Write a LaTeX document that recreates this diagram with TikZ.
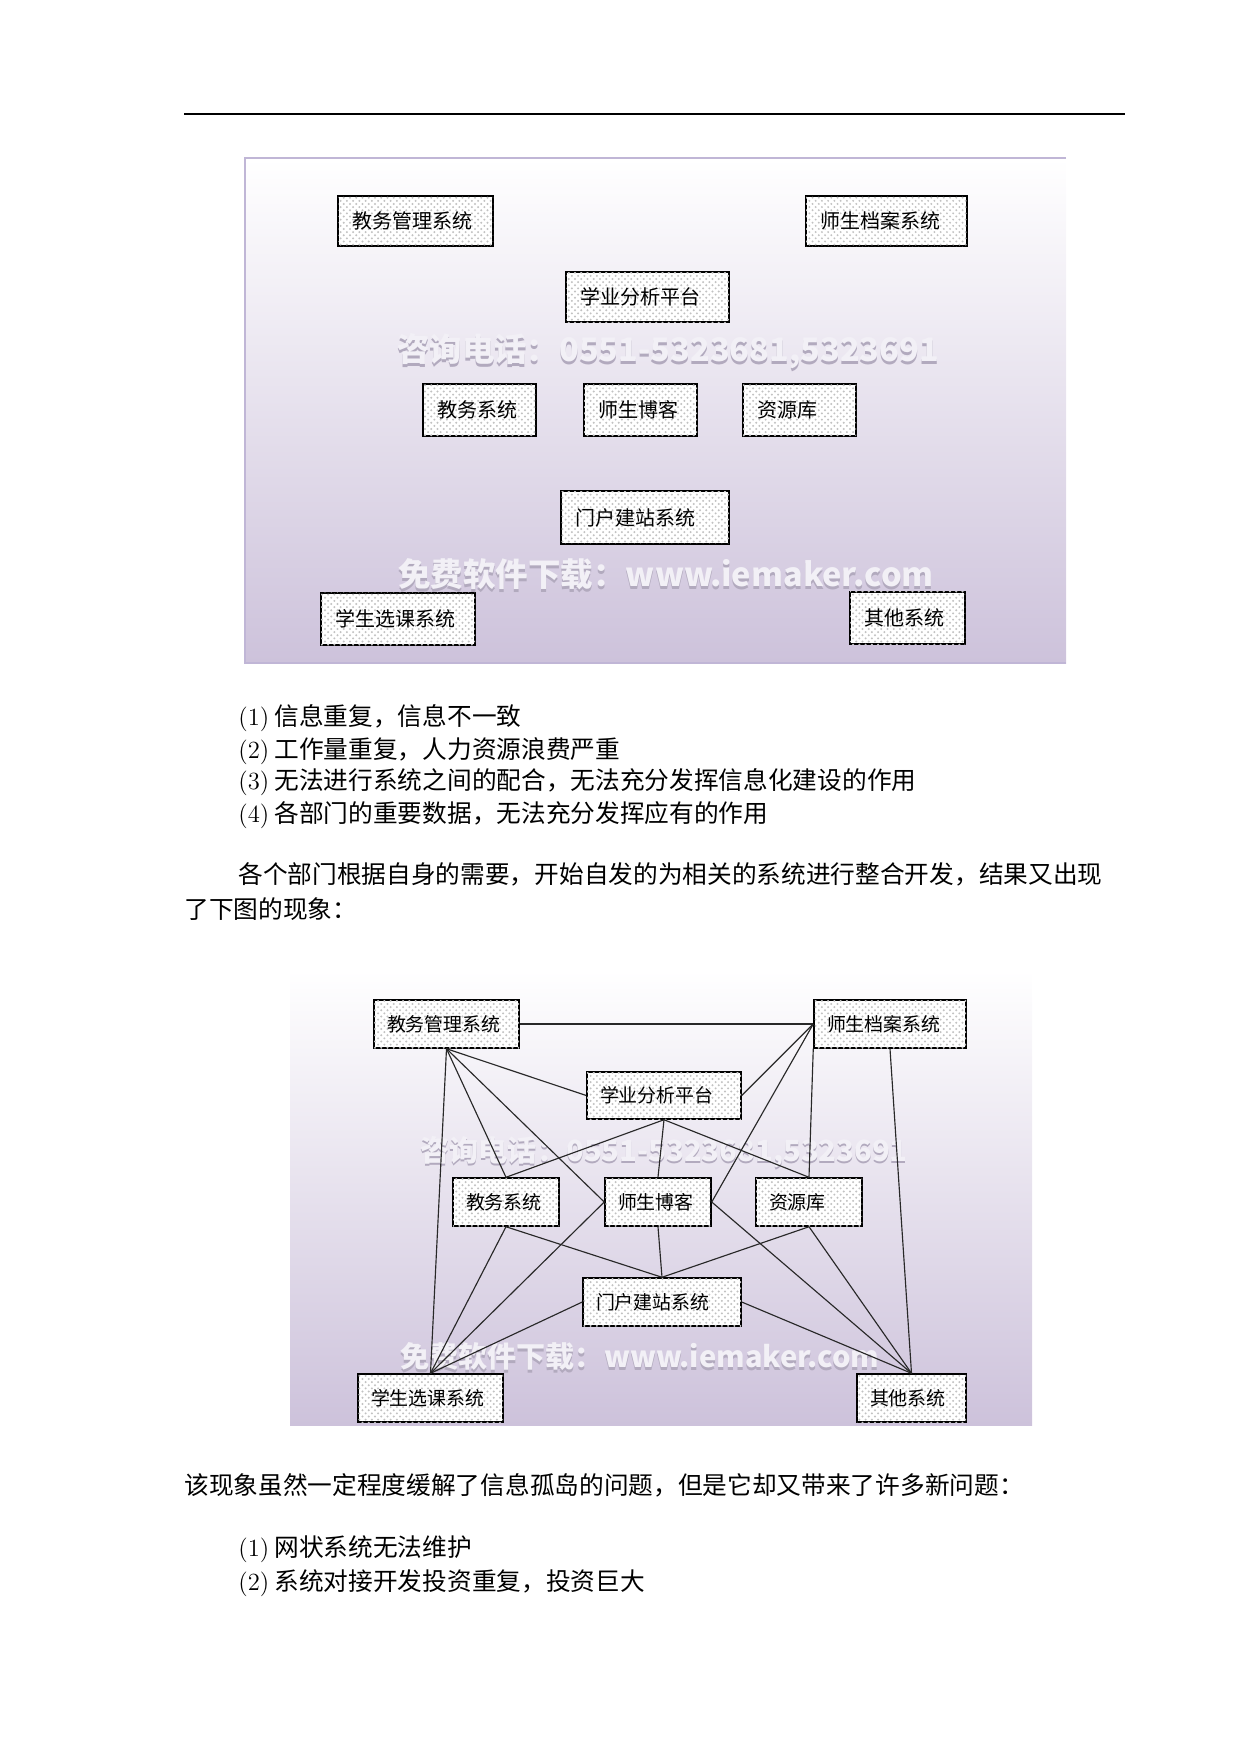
\documentclass[tikz,border=0pt]{standalone}
\usepackage{graphicx}
\usepackage{fontspec}
\newfontfamily\cjk{Noto Sans CJK SC}
\usetikzlibrary{patterns}

\definecolor{panelbot}{RGB}{205,194,219}
\definecolor{panelmid}{RGB}{237,233,242}
\definecolor{panelrule}{RGB}{192,182,214}
\definecolor{markfg}{RGB}{242,240,246}
\definecolor{markbg}{RGB}{178,170,190}
\definecolor{linkgray}{RGB}{40,40,40}

\newcommand{\marktext}[2]{\resizebox{#1}{!}{\rlap{\textcolor{markbg}{\raisebox{-0.9pt}{#2}}}\textcolor{markfg}{#2}}}

\tikzset{
  sysbox/.style={draw=black, line width=0.7pt, fill=white,
    postaction={pattern=crosshatch dots, pattern color=black!24},
    inner xsep=6.72pt, inner ysep=0pt, align=left,
    font=\cjk\fontsize{9.6pt}{11pt}\selectfont},
  netbox/.style={sysbox, inner xsep=6.24pt, minimum height=23.04pt,
    font=\cjk\fontsize{9.1pt}{11pt}\selectfont},
  link/.style={draw=linkgray, line width=0.55pt},
  bodytext/.style={anchor=west, inner sep=0pt,
    font=\fontsize{11.85pt}{14pt}\selectfont},
  watermark/.style={inner sep=0pt, font=\cjk\bfseries}
}

\begin{document}
\begin{tikzpicture}[x=0.48pt,y=0.48pt,yscale=-1,xscale=1]
        \useasboundingbox (0,0) rectangle (1241,1754);

        %Straight Lines [header rule]
        \draw [line width=0.7pt] (184,114) -- (1125,114) ;

        %Shape: Rectangle [first panel]
        \shade [top color=white, middle color=panelmid, bottom color=panelbot] (245,158) rectangle (1066,663) ;
        \draw [panelrule, line width=0.7pt] (1066,158) -- (245,158) -- (245,663) -- (1066,663) ;

        %Text: watermarks of the first panel
        \node [watermark] (wmA1) at (668,353) {\marktext{260pt}{咨询电话：0551-5323681,5323691}};
        \node [watermark] (wmA2) at (666,576) {\marktext{257pt}{免费软件下载：www.iemaker.com}};

        %Shape: Rectangle [boxes of the first panel]
        \node [sysbox, minimum height=24pt, text width=60.96pt] (gl1) at (415.5,221) {教务管理系统};
        \node [sysbox, minimum height=24pt, text width=63.84pt] (da1) at (886.5,221) {师生档案系统};
        \node [sysbox, minimum height=24pt, text width=64.8pt] (xy1) at (647.5,297) {学业分析平台};
        \node [sysbox, minimum height=25pt, text width=40.8pt] (jw1) at (479.5,410) {教务系统};
        \node [sysbox, minimum height=25pt, text width=40.8pt] (bk1) at (640.5,410) {师生博客};
        \node [sysbox, minimum height=25pt, text width=40.8pt] (zy1) at (799.5,410) {资源库};
        \node [sysbox, minimum height=25.4pt, text width=67.2pt] (mh1) at (645,517.5) {门户建站系统};
        \node [sysbox, minimum height=25pt, text width=60.48pt] (xk1) at (398,619) {学生选课系统};
        \node [sysbox, minimum height=25pt, text width=41.76pt] (qt1) at (907.5,618) {其他系统};

        %Text: list and paragraph
        \node [bodytext] (ta1) at (238,718) {(1)\hspace{2.5pt}{\cjk 信息重复，信息不一致}};
        \node [bodytext] (ta2) at (238,751) {(2)\hspace{2.5pt}{\cjk 工作量重复，人力资源浪费严重}};
        \node [bodytext] (ta3) at (238,782) {(3)\hspace{2.5pt}{\cjk 无法进行系统之间的配合，无法充分发挥信息化建设的作用}};
        \node [bodytext] (ta4) at (238,815) {(4)\hspace{2.5pt}{\cjk 各部门的重要数据，无法充分发挥应有的作用}};
        \node [bodytext] (pa1) at (238,874) {\cjk 各个部门根据自身的需要，开始自发的为相关的系统进行整合开发，结果又出现};
        \node [bodytext] (pa2) at (184,909) {\cjk 了下图的现象：};

        %Shape: Rectangle [second panel]
        \shade [top color=white, middle color=panelmid, bottom color=panelbot] (290,970) rectangle (1032,1425) ;

        %Text: watermarks of the second panel
        \node [watermark] (wmB1) at (664,1153) {\marktext{234pt}{咨询电话：0551-5323681,5323691}};
        \node [watermark] (wmB2) at (640,1358) {\marktext{230pt}{免费软件下载：www.iemaker.com}};

        %Shape: Rectangle [boxes of the second panel]
        \node [netbox, text width=57.12pt] (gl2) at (446.5,1024) {教务管理系统};
        \node [netbox, text width=60.48pt] (da2) at (890,1024) {师生档案系统};
        \node [netbox, minimum height=22.56pt, text width=61.44pt] (xy2) at (664,1095.5) {学业分析平台};
        \node [netbox, text width=38.4pt] (jw2) at (506,1202) {教务系统};
        \node [netbox, text width=38.4pt] (bk2) at (658,1202) {师生博客};
        \node [netbox, text width=38.4pt] (zy2) at (809,1202) {资源库};
        \node [netbox, text width=63.36pt] (mh2) at (662,1302) {门户建站系统};
        \node [netbox, text width=57.12pt] (xk2) at (430.5,1398) {学生选课系统};
        \node [netbox, text width=39.84pt] (qt2) at (911.5,1398) {其他系统};

        %Straight Lines [links of the second panel]
        \draw [link] (gl2.east) -- (da2.west) ;
        \draw [link] (gl2.south) -- (xy2.west) ;
        \draw [link] (gl2.south) -- (jw2.north) ;
        \draw [link] (gl2.south) -- (bk2.west) ;
        \draw [link] (gl2.south) -- (xk2.north) ;
        \draw [link] (da2.west) -- (xy2.east) ;
        \draw [link] (da2.west) -- (bk2.east) ;
        \draw [link] (da2.south west) -- (zy2.north) ;
        \draw [link] (da2.south) -- (qt2.north) ;
        \draw [link] (xy2.south) -- (jw2.north) ;
        \draw [link] (xy2.south) -- (bk2.north) ;
        \draw [link] (xy2.south) -- (zy2.north) ;
        \draw [link] (jw2.south) -- (mh2.north) ;
        \draw [link] (jw2.south) -- (xk2.north) ;
        \draw [link] (bk2.south) -- (mh2.north) ;
        \draw [link] (bk2.west) -- (xk2.north) ;
        \draw [link] (bk2.east) -- (qt2.north) ;
        \draw [link] (zy2.south) -- (mh2.north) ;
        \draw [link] (zy2.south) -- (qt2.north) ;
        \draw [link] (mh2.west) -- (xk2.north) ;
        \draw [link] (mh2.east) -- (qt2.north) ;

        %Text: closing paragraph and list
        \node [bodytext] (pb1) at (184,1485) {\cjk 该现象虽然一定程度缓解了信息孤岛的问题，但是它却又带来了许多新问题：};
        \node [bodytext] (tb1) at (238,1549) {(1)\hspace{2.5pt}{\cjk 网状系统无法维护}};
        \node [bodytext] (tb2) at (238,1583) {(2)\hspace{2.5pt}{\cjk 系统对接开发投资重复，投资巨大}};
\end{tikzpicture}
\end{document}
